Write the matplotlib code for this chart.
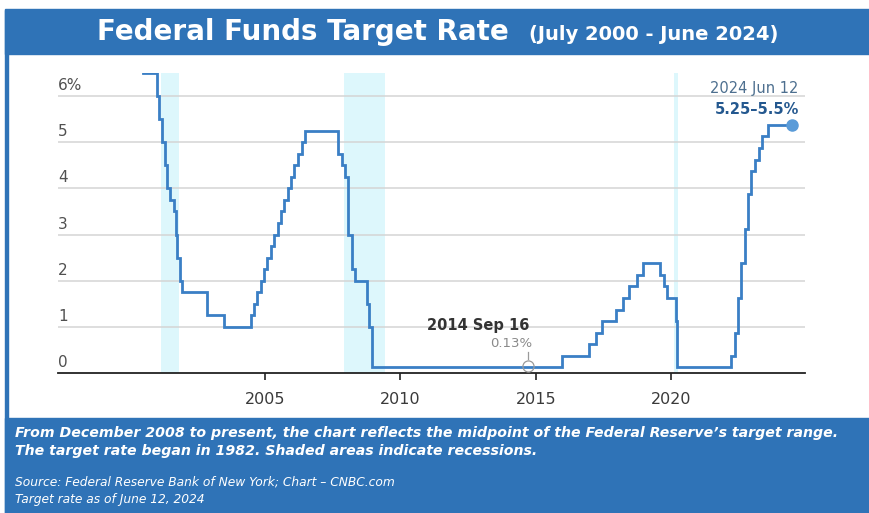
"""Federal Funds target rate, July 2000 - June 2024 (CNBC style)."""

import pandas as pd
import matplotlib.pyplot as plt
from matplotlib.patches import Rectangle

BAND_COLOUR = '#2F73B7'
LINE_COLOUR = '#3A7FC5'
SHADE_COLOUR = '#DDF7FC'
GRID_COLOUR = '#D4D4D4'
LABEL_COLOUR = '#505050'
FONT = 'DejaVu Sans'

# rate changes (target, midpoint of range after Dec 2008)
change_dates = [
    '2000-07-01', '2001-01-03', '2001-01-31', '2001-03-20', '2001-04-18',
    '2001-05-15', '2001-06-27', '2001-08-21', '2001-09-17', '2001-10-02',
    '2001-11-06', '2001-12-11', '2002-11-06', '2003-06-25', '2004-06-30',
    '2004-08-10', '2004-09-21', '2004-11-10', '2004-12-14', '2005-02-02',
    '2005-03-22', '2005-05-03', '2005-06-30', '2005-08-09', '2005-09-20',
    '2005-11-01', '2005-12-13', '2006-01-31', '2006-03-28', '2006-05-10',
    '2006-06-29', '2007-09-18', '2007-10-31', '2007-12-11', '2008-01-22',
    '2008-01-30', '2008-03-18', '2008-04-30', '2008-10-08', '2008-10-29',
    '2008-12-16', '2015-12-16', '2016-12-14', '2017-03-15', '2017-06-14',
    '2017-12-13', '2018-03-21', '2018-06-13', '2018-09-26', '2018-12-19',
    '2019-07-31', '2019-09-18', '2019-10-30', '2020-03-03', '2020-03-15',
    '2022-03-16', '2022-05-04', '2022-06-15', '2022-07-27', '2022-09-21',
    '2022-11-02', '2022-12-14', '2023-02-01', '2023-03-22', '2023-05-03',
    '2023-07-26', '2024-06-12',
]
rates = [
    6.5, 6.0, 5.5, 5.0, 4.5,
    4.0, 3.75, 3.5, 3.0, 2.5,
    2.0, 1.75, 1.25, 1.0, 1.25,
    1.5, 1.75, 2.0, 2.25, 2.5,
    2.75, 3.0, 3.25, 3.5, 3.75,
    4.0, 4.25, 4.5, 4.75, 5.0,
    5.25, 4.75, 4.5, 4.25, 3.5,
    3.0, 2.25, 2.0, 1.5, 1.0,
    0.125, 0.375, 0.625, 0.875, 1.125,
    1.375, 1.625, 1.875, 2.125, 2.375,
    2.125, 1.875, 1.625, 1.125, 0.125,
    0.375, 0.875, 1.625, 2.375, 3.125,
    3.875, 4.375, 4.625, 4.875, 5.125,
    5.375, 5.375,
]

recession_starts = ['2001-03-01', '2007-12-01', '2020-02-01']
recession_ends = ['2001-11-01', '2009-06-01', '2020-04-01']

year_ticks = [2005, 2010, 2015, 2020]
y_ticks = [0, 1, 2, 3, 4, 5, 6]
y_labels = ['0', '1', '2', '3', '4', '5', '6%']

low_date, low_rate = '2014-09-16', 0.125
last_date, last_rate = '2024-06-12', 5.375


def decimal_year(dates):
    d = pd.to_datetime(pd.Series(dates))
    return (d.dt.year + (d.dt.dayofyear - 1) / 365.25).to_numpy()


x = decimal_year(change_dates)
rec_x0 = decimal_year(recession_starts)
rec_x1 = decimal_year(recession_ends)
low_x = decimal_year([low_date])[0]
last_x = decimal_year([last_date])[0]

fig = plt.figure(figsize=(8.69, 5.13), dpi=100)
fig.patch.set_facecolor('white')

# frame: title band, bottom band and thin left border
fig.add_artist(Rectangle((5 / 869, 1 - 54 / 513), 1, 45 / 513,
                         transform=fig.transFigure, color=BAND_COLOUR, zorder=0))
fig.add_artist(Rectangle((5 / 869, 0), 1, 95 / 513,
                         transform=fig.transFigure, color=BAND_COLOUR, zorder=0))
fig.add_artist(Rectangle((5 / 869, 0), 2.5 / 869, 1 - 10 / 513,
                         transform=fig.transFigure, color=BAND_COLOUR, zorder=0))

ax = fig.add_axes([58 / 869, 140 / 513, 747 / 869, 300 / 513])
ax.set_xlim(1997.36, 2024.93)
ax.set_ylim(0, 6.5)

for x0, x1 in zip(rec_x0, rec_x1):
    ax.axvspan(x0, x1, color=SHADE_COLOUR, lw=0, zorder=0)

for y in y_ticks[1:]:
    ax.axhline(y, color=GRID_COLOUR, lw=1.1, zorder=1)
for y, lab in zip(y_ticks, y_labels):
    ax.text(0, y + 0.13, lab, transform=ax.get_yaxis_transform(),
            ha='left', va='baseline', fontsize=11, color=LABEL_COLOUR, family=FONT)

ax.plot(x, rates, drawstyle='steps-post', color=LINE_COLOUR, lw=2.0,
        solid_joinstyle='miter', zorder=3)
ax.plot([last_x], [last_rate], 'o', ms=8, color='#5A9BD8', zorder=4)

# low point annotation
ax.plot([low_x], [low_rate + 0.03], 'o', ms=8, mfc='none', mec='#9A9A9A', mew=0.9, zorder=4)
ax.plot([low_x, low_x], [0.3, 0.45], color='#9A9A9A', lw=0.9, zorder=4)
ax.text(low_x - 1.85, 1.02, '2014 Sep 16', ha='center', va='center',
        fontsize=10.5, fontweight='bold', color='#333333', family=FONT)
ax.text(low_x + 0.15, 0.64, '0.13%', ha='right', va='center',
        fontsize=9.5, color='#8A8A8A', family=FONT)

# last point annotation
ax.text(2024.7, 6.17, '2024 Jun 12', ha='right', va='center',
        fontsize=10.5, color='#4D6F8F', family=FONT)
ax.text(2024.7, 5.72, '5.25\u20135.5%', ha='right', va='center',
        fontsize=10.5, fontweight='bold', color='#24588F', family=FONT)

for side in ['top', 'right', 'left']:
    ax.spines[side].set_visible(False)
ax.spines['bottom'].set_color('#222222')
ax.spines['bottom'].set_linewidth(1.3)
ax.set_yticks([])
ax.set_xticks(year_ticks)
ax.set_xticklabels([str(t) for t in year_ticks], fontsize=11.5, color='#3A3A3A', family=FONT)
ax.tick_params(axis='x', length=5, width=1.2, color='#222222', pad=9)

# title
fig.text(97 / 869, 1 - 32 / 513, 'Federal Funds Target Rate', ha='left', va='center',
         fontsize=20, fontweight='bold', color='white', family=FONT)
fig.text(778 / 869, 1 - 35 / 513, '(July 2000 - June 2024)', ha='right', va='center',
         fontsize=14, fontweight='bold', color='white', family=FONT)

# footnotes
fig.text(15 / 869, 1 - 433 / 513,
         'From December 2008 to present, the chart reflects the midpoint of the '
         'Federal Reserve\u2019s target range.',
         ha='left', va='center', fontsize=10.2, fontweight='bold', style='italic',
         color='white', family=FONT)
fig.text(15 / 869, 1 - 451 / 513,
         'The target rate began in 1982. Shaded areas indicate recessions.',
         ha='left', va='center', fontsize=10.2, fontweight='bold', style='italic',
         color='white', family=FONT)
fig.text(15 / 869, 1 - 482 / 513,
         'Source: Federal Reserve Bank of New York; Chart \u2013 CNBC.com',
         ha='left', va='center', fontsize=8.8, style='italic', color='white', family=FONT)
fig.text(15 / 869, 1 - 499 / 513, 'Target rate as of June 12, 2024',
         ha='left', va='center', fontsize=8.8, style='italic', color='white', family=FONT)

fig.savefig('out.png', dpi=100)
